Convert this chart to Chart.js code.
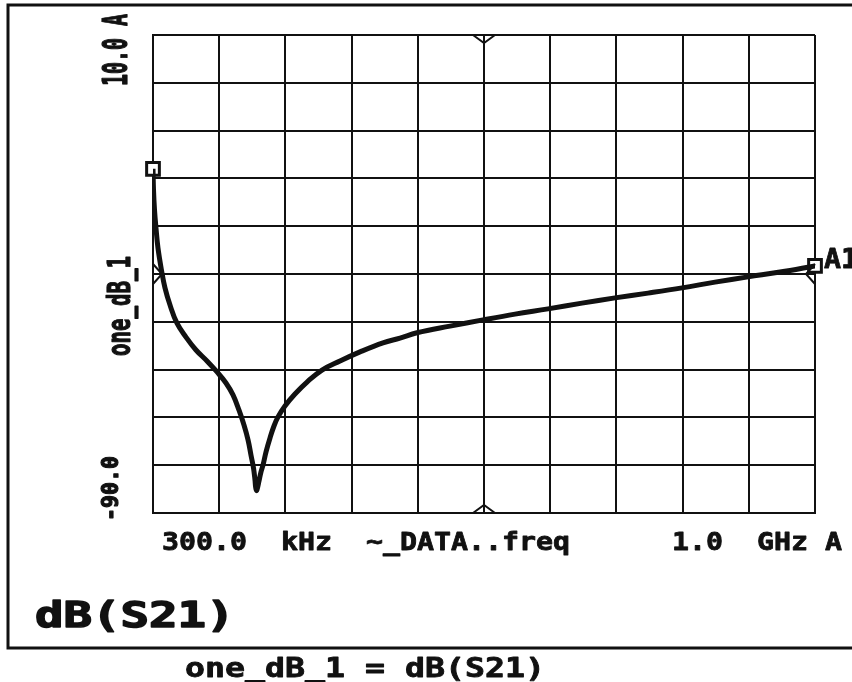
<!DOCTYPE html>
<html>
<head>
<meta charset="utf-8">
<script src="https://cdn.jsdelivr.net/npm/chart.js@4.4.1/dist/chart.umd.min.js"></script>
<style>
  html, body { margin: 0; padding: 0; background: #fff; }
  #wrap { width: 852px; height: 682px; }
</style>
</head>
<body>
<div id="wrap"><canvas id="plot"></canvas></div>
<script>
// frequency sweep, MHz (linear axis 300 kHz .. 1 GHz)
const freqMHz = [0.3, 1.06, 2.57, 4.83, 7.85, 13.1, 18.4, 26.0, 36.5, 50.1, 65.2, 81.8, 97.0, 110.5,
  121.1, 130.2, 137.7, 143.8, 148.3, 152.1, 154.3, 155.3, 156.6, 158.0, 160.4, 163.4, 166.4, 171.0,
  177.0, 183.0, 189.1, 199.6, 214.7, 232.9, 255.5, 282.7, 312.9, 347.6, 373.3, 399.0, 448.8, 498.6,
  547.0, 596.8, 648.1, 698.0, 747.8, 799.2, 849.0, 898.9, 947.2, 1000];
// one_dB_1 = dB(S21)
const s21dB = [-18.0, -22.4, -26.6, -30.4, -34.6, -39.2, -42.9, -46.5, -50.3, -53.2, -55.9, -58.2, -60.5, -62.8,
  -65.3, -68.5, -71.6, -74.7, -77.9, -80.6, -83.1, -84.6, -85.3, -84.8, -83.3, -81.4, -80.0, -77.2,
  -74.3, -71.8, -69.9, -67.6, -65.1, -62.6, -60.1, -58.2, -56.3, -54.4, -53.4, -52.3, -50.9, -49.6,
  -48.4, -47.3, -46.1, -45.0, -44.0, -42.9, -41.7, -40.6, -39.6, -38.3];

const xMin = 0.3, xMax = 1000;
const yMin = -90, yMax = 10;

const curve = freqMHz.map((f, i) => ({ x: f, y: s21dB[i] }));
const last = curve.length - 1;
const markers = [curve[0], curve[last]];

const FONT = "DejaVu Sans Mono";

// draw text with a fixed character advance (the old plotter font is wide)
function plotText(ctx, text, x, y, size, advance, rotate, heavy) {
  ctx.save();
  ctx.font = "bold " + size + "px " + FONT;
  const natural = ctx.measureText("M").width;
  const sx = advance / natural;
  ctx.translate(x, y);
  if (rotate) ctx.rotate(-Math.PI / 2);
  ctx.scale(sx, 1);
  ctx.fillStyle = "#111";
  ctx.strokeStyle = "#111";
  ctx.lineJoin = "round";
  ctx.lineWidth = heavy || 0.8;
  ctx.textBaseline = "alphabetic";
  ctx.fillText(text, 0, 0);
  ctx.strokeText(text, 0, 0);
  ctx.restore();
}

const decor = {
  id: "decor",
  beforeDraw(chart) {
    const ctx = chart.ctx;
    ctx.save();
    ctx.fillStyle = "#fff";
    ctx.fillRect(0, 0, chart.width, chart.height);
    ctx.restore();
  },
  afterDraw(chart) {
    const ctx = chart.ctx;
    const xs = chart.scales.x, ys = chart.scales.y;
    const a = chart.chartArea;

    // outer frame
    ctx.save();
    ctx.strokeStyle = "#111";
    ctx.lineWidth = 3;
    ctx.strokeRect(8, 5, 900, 643);

    // centre marks on the four axes
    const cx = xs.getPixelForValue((xMin + xMax) / 2);
    const cy = ys.getPixelForValue((yMin + yMax) / 2);
    ctx.lineWidth = 2;
    ctx.beginPath();
    ctx.moveTo(cx - 11, a.top); ctx.lineTo(cx, a.top + 8); ctx.lineTo(cx + 11, a.top);
    ctx.moveTo(cx - 11, a.bottom); ctx.lineTo(cx, a.bottom - 8); ctx.lineTo(cx + 11, a.bottom);
    ctx.moveTo(a.left, cy - 10); ctx.lineTo(a.left + 9, cy); ctx.lineTo(a.left, cy + 10);
    ctx.moveTo(a.right, cy - 10); ctx.lineTo(a.right - 9, cy); ctx.lineTo(a.right, cy + 10);
    ctx.stroke();
    ctx.restore();

    // y axis texts (rotated)
    plotText(ctx, "10.0 A", 127, 86, 34, 12, true, 1.2);
    plotText(ctx, "one_dB_1", 130, 356, 32, 12.5, true, 1.2);
    plotText(ctx, "-90.0", 118, 521, 23, 13, true, 1.2);

    // x axis line of text
    plotText(ctx, "300.0  kHz  ~_DATA..freq      1.0  GHz A", 162, 550, 25, 17, false);

    // marker label
    const ex = xs.getPixelForValue(markers[1].x);
    const ey = ys.getPixelForValue(markers[1].y);
    plotText(ctx, "A1", ex + 9, ey + 2, 27, 17, false);

    // title and definition
    plotText(ctx, "dB(S21)", 35, 627, 36, 28.5, false, 1.5);
    plotText(ctx, "one_dB_1 = dB(S21)", 185, 677, 26, 20, false);
  }
};

new Chart(document.getElementById("plot"), {
  type: "line",
  data: {
    datasets: [
      {
        data: curve,
        borderColor: "#111",
        borderWidth: 5,
        pointRadius: 0,
        tension: 0.4,
        fill: false
      },
      {
        data: markers,
        showLine: false,
        clip: false,
        pointStyle: "rect",
        pointRadius: 9,
        pointBorderWidth: 3,
        pointBorderColor: "#111",
        pointBackgroundColor: "#fff"
      }
    ]
  },
  options: {
    responsive: true,
    maintainAspectRatio: false,
    animation: false,
    devicePixelRatio: 1,
    layout: { padding: { left: 153, right: 37, top: 35, bottom: 169 } },
    plugins: { legend: { display: false }, tooltip: { enabled: false } },
    scales: {
      x: {
        type: "linear",
        min: xMin,
        max: xMax,
        afterBuildTicks: (s) => {
          s.ticks = Array.from({ length: 11 }, (_, i) => ({ value: xMin + i * (xMax - xMin) / 10 }));
        },
        ticks: { display: false },
        grid: { color: "#111", lineWidth: 2, drawTicks: false },
        border: { color: "#111", width: 2 }
      },
      y: {
        type: "linear",
        min: yMin,
        max: yMax,
        ticks: { display: false, stepSize: 10 },
        grid: { color: "#111", lineWidth: 2, drawTicks: false },
        border: { color: "#111", width: 2 }
      }
    }
  },
  plugins: [decor]
});
</script>
</body>
</html>
